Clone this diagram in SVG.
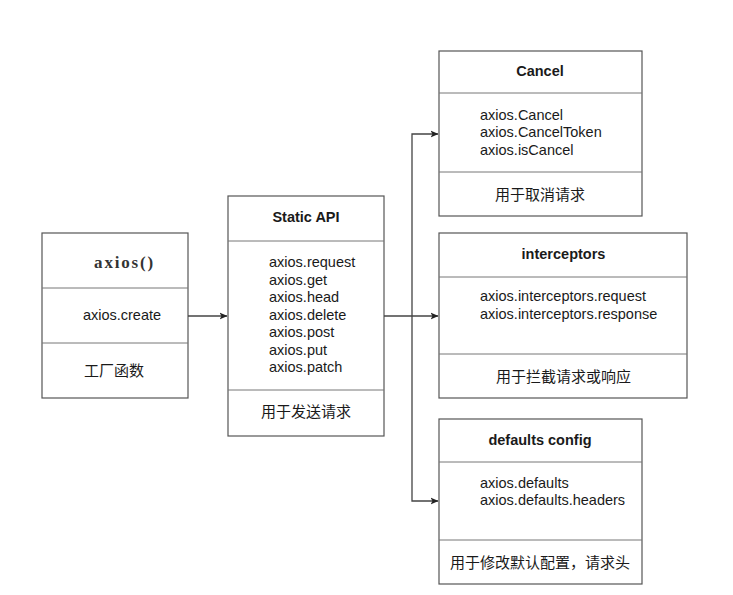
<svg xmlns="http://www.w3.org/2000/svg" width="733" height="595" viewBox="0 0 733 595">
<defs>
<marker id="arr" markerWidth="8" markerHeight="8" refX="7.5" refY="4" orient="auto" markerUnits="userSpaceOnUse">
<path d="M0,0.5 L8,4 L0,7.5 L2,4 Z" fill="#222"/>
</marker>
</defs>
<style>
.box{fill:#fff;stroke:#555;stroke-width:1.2}
.div{stroke:#777;stroke-width:1}
.t{font-family:"Liberation Sans",Arial,sans-serif;font-size:14.5px;fill:#1a1a1a}
.b{font-weight:bold;text-anchor:middle}
.c{text-anchor:middle}
.zh{font-family:"Liberation Sans","Noto Sans CJK SC",sans-serif;font-size:15px;fill:#1a1a1a;text-anchor:middle}
.serif{font-family:"Liberation Serif","Times New Roman",serif;font-size:17px;font-weight:bold;fill:#333;letter-spacing:1.8px;text-anchor:middle}
.ln{fill:none;stroke:#444;stroke-width:1.3}
</style>
<rect width="733" height="595" fill="#fff"/>
<g id="axios">
<rect class="box" x="42" y="233" width="146" height="165"/>
<line class="div" x1="42" y1="288" x2="188" y2="288"/>
<line class="div" x1="42" y1="343" x2="188" y2="343"/>
<text class="serif" x="124.5" y="267.5">axios()</text>
<text class="t c" x="122" y="320">axios.create</text>
<text class="zh" x="114" y="376">工厂函数</text>
</g>
<g id="static-api">
<rect class="box" x="228" y="196" width="156" height="240"/>
<line class="div" x1="228" y1="241" x2="384" y2="241"/>
<line class="div" x1="228" y1="390" x2="384" y2="390"/>
<text class="t b" x="306" y="222">Static API</text>
<text class="t" x="269" y="267">axios.request</text>
<text class="t" x="269" y="284.5">axios.get</text>
<text class="t" x="269" y="302">axios.head</text>
<text class="t" x="269" y="319.5">axios.delete</text>
<text class="t" x="269" y="337">axios.post</text>
<text class="t" x="269" y="354.5">axios.put</text>
<text class="t" x="269" y="372">axios.patch</text>
<text class="zh" x="306" y="417">用于发送请求</text>
</g>
<g id="cancel">
<rect class="box" x="439" y="51" width="203" height="165"/>
<line class="div" x1="439" y1="93" x2="642" y2="93"/>
<line class="div" x1="439" y1="172" x2="642" y2="172"/>
<text class="t b" x="540" y="76">Cancel</text>
<text class="t" x="480" y="119.5">axios.Cancel</text>
<text class="t" x="480" y="137">axios.CancelToken</text>
<text class="t" x="480" y="154.5">axios.isCancel</text>
<text class="zh" x="540" y="199.5">用于取消请求</text>
</g>
<g id="interceptors">
<rect class="box" x="439" y="233" width="248" height="165"/>
<line class="div" x1="439" y1="277" x2="687" y2="277"/>
<line class="div" x1="439" y1="354" x2="687" y2="354"/>
<text class="t b" x="563.5" y="258.5">interceptors</text>
<text class="t" x="480" y="301">axios.interceptors.request</text>
<text class="t" x="480" y="318.5">axios.interceptors.response</text>
<text class="zh" x="563.5" y="382">用于拦截请求或响应</text>
</g>
<g id="defaults">
<rect class="box" x="439" y="419" width="203" height="165"/>
<line class="div" x1="439" y1="462" x2="642" y2="462"/>
<line class="div" x1="439" y1="540" x2="642" y2="540"/>
<text class="t b" x="540" y="444.5">defaults config</text>
<text class="t" x="480" y="487.5">axios.defaults</text>
<text class="t" x="480" y="505">axios.defaults.headers</text>
<text class="zh" x="540" y="568">用于修改默认配置，请求头</text>
</g>
<g id="connectors">
<line class="ln" x1="188" y1="316" x2="227" y2="316" marker-end="url(#arr)"/>
<line class="ln" x1="384" y1="316" x2="438" y2="316" marker-end="url(#arr)"/>
<polyline class="ln" points="412,316 412,134 438,134" marker-end="url(#arr)"/>
<polyline class="ln" points="412,316 412,501 438,501" marker-end="url(#arr)"/>
</g>
</svg>
